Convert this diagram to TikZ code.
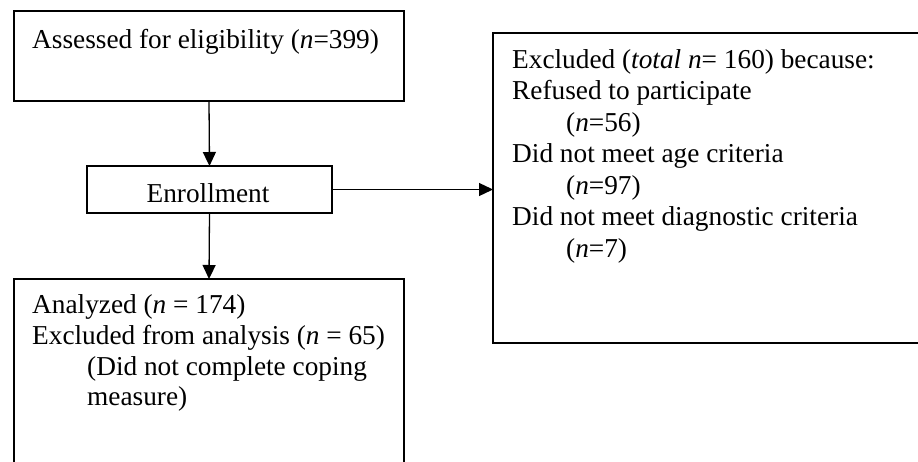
\documentclass[tikz,border=0pt]{standalone}
\usepackage{fontspec}
\setmainfont{Liberation Serif}
\usetikzlibrary{arrows.meta}
\begin{document}
\begin{tikzpicture}[x=1pt,y=-1pt,
  box/.style={draw, line width=2.4pt, rectangle, inner sep=0pt, outer sep=0pt, anchor=north west},
  txt/.style={anchor=base west, inner sep=0pt, font=\fontsize{27.3}{32}\selectfont},
  conn/.style={line width=1.3pt, -{Triangle[length=14pt,width=13pt]}}]
\useasboundingbox (0,0) rectangle (918,461);
\clip (0,0) rectangle (918,461);
% boxes
\node[box, minimum width=390pt, minimum height=90pt] (assess) at (14,11) {};
\node[box, minimum width=245pt, minimum height=47pt] (enroll) at (87,166) {};
\node[box, minimum width=440pt, minimum height=310pt] (excl) at (493,33) {};
\node[box, minimum width=390pt, minimum height=230pt] (anal) at (14,279) {};
% texts
\node[txt] (t1) at (32,48) {Assessed for eligibility (\textit{n}=399)};
\node[txt, anchor=base] (t2) at (208,202) {Enrollment};
\node[txt] (r1) at (512,68) {Excluded (\textit{total n}= 160) because:};
\node[txt] (r2) at (512,99.5) {Refused to participate};
\node[txt] (r3) at (566,131) {(\textit{n}=56)};
\node[txt] (r4) at (512,162.5) {Did not meet age criteria};
\node[txt] (r5) at (566,194) {(\textit{n}=97)};
\node[txt] (r6) at (512,225.5) {Did not meet diagnostic criteria};
\node[txt] (r7) at (566,257) {(\textit{n}=7)};
\node[txt] (b1) at (32,313) {Analyzed (\textit{n} = 174)};
\node[txt] (b2) at (32,344) {Excluded from analysis (\textit{n} = 65)};
\node[txt] (b3) at (87,375) {(Did not complete coping};
\node[txt] (b4) at (87,405) {measure)};
% connectors
\draw[conn] (assess.south) -- (enroll.north);
\draw[conn] (enroll.east) -- (excl.west |- enroll.east);
\draw[conn] (enroll.south) -- (anal.north);
\end{tikzpicture}
\end{document}
